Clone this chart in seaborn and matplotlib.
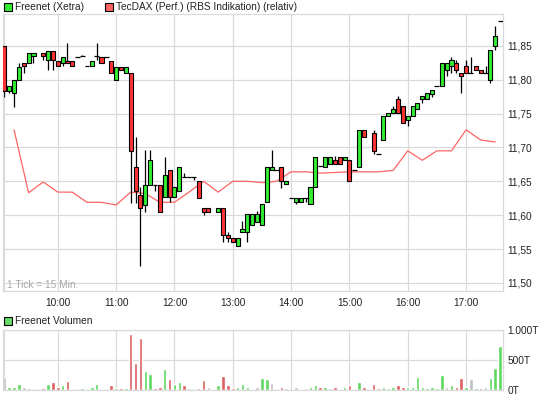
import matplotlib
matplotlib.use("Agg")
import matplotlib.pyplot as plt
import seaborn as sns
import pandas as pd
from matplotlib.patches import Rectangle

sns.set_style("white")
plt.rcParams['font.family'] = ['Liberation Sans', 'DejaVu Sans']

# 5 minute slots starting 09:05 (index 0) up to 17:35 (index 102)
hour_pos = [11, 23, 35, 47, 59, 71, 83, 95]
hour_labels = ['10:00', '11:00', '12:00', '13:00', '14:00', '15:00', '16:00', '17:00']

price_ticks = [11.50, 11.55, 11.60, 11.65, 11.70, 11.75, 11.80, 11.85]

# candles: open / close / high / low  (None = no trade, or no wick beyond body)
c_open = [11.850, 11.784, 11.780, 11.799, 11.824, 11.824, 11.835, None, 11.839, 11.829,
          11.843, 11.828, 11.824, 11.828, 11.828, 11.833, 11.835, 11.820, 11.820, 11.835,
          11.834, 11.834, 11.828, 11.799, 11.819, 11.810, 11.810, 11.671, 11.630, 11.615,
          11.645, 11.645, 11.645, 11.627, 11.666, 11.627, 11.635, 11.657, 11.657, 11.657,
          11.651, 11.611, 11.611, None, 11.605, 11.610, 11.570, 11.566, 11.555, 11.575,
          11.575, 11.586, 11.590, 11.586, 11.620, 11.667, 11.667, 11.671, 11.646, 11.626,
          11.620, 11.620, 11.626, 11.616, 11.641, 11.672, 11.671, 11.676, 11.681, 11.686,
          11.681, 11.681, 11.666, 11.671, 11.726, None, 11.721, 11.691, 11.711, 11.746,
          11.751, 11.771, 11.761, 11.740, 11.746, 11.756, 11.771, 11.771, 11.779, 11.790,
          11.790, 11.815, 11.820, 11.825, 11.810, 11.820, 11.810, 11.820, 11.815, 11.810,
          11.800, 11.850, 11.887]
c_close = [11.784, 11.790, 11.799, 11.819, 11.820, 11.839, 11.839, None, 11.835, 11.843,
           11.829, 11.820, 11.833, 11.824, 11.820, 11.833, 11.835, 11.820, 11.828, 11.835,
           11.824, 11.834, 11.810, 11.819, 11.814, 11.819, 11.695, 11.635, 11.611, 11.645,
           11.681, 11.645, 11.605, 11.660, 11.627, 11.641, 11.671, 11.657, 11.657, 11.657,
           11.626, 11.605, 11.605, None, 11.611, 11.570, 11.566, 11.561, 11.566, 11.580,
           11.601, 11.601, 11.601, 11.616, 11.671, 11.671, 11.667, 11.651, 11.651, 11.626,
           11.626, 11.626, 11.626, 11.641, 11.686, 11.672, 11.686, 11.686, 11.676, 11.676,
           11.686, 11.651, 11.666, 11.726, 11.715, None, 11.695, 11.691, 11.746, 11.751,
           11.756, 11.751, 11.736, 11.746, 11.761, 11.766, 11.776, 11.780, 11.785, 11.790,
           11.825, 11.825, 11.829, 11.815, 11.805, 11.810, 11.810, 11.815, 11.810, 11.810,
           11.844, 11.865, 11.887]
c_high = [None, None, None, 11.825, None, None, None, None, None, None,
          None, None, None, 11.854, None, None, 11.837, None, None, 11.854,
          None, None, None, None, None, None, None, 11.715, 11.642, 11.696,
          11.696, None, None, 11.686, None, None, None, 11.662, None, None,
          None, None, None, None, None, 11.611, 11.575, None, None, 11.591,
          None, None, 11.606, None, None, 11.696, None, None, None, None,
          None, None, None, None, None, None, None, None, 11.688, None,
          None, None, None, None, None, None, 11.726, None, None, None,
          11.761, 11.776, None, None, None, None, None, None, None, None,
          None, None, 11.834, 11.829, None, 11.829, 11.834, None, None, 11.820,
          None, 11.879, None]
c_low = [11.775, 11.780, 11.760, None, 11.810, None, 11.824, None, 11.829, 11.814,
         11.814, None, 11.820, None, None, None, None, None, None, 11.829,
         None, None, None, None, None, None, 11.618, 11.618, 11.525, 11.605,
         None, 11.635, None, None, 11.620, None, None, None, None, 11.652,
         None, 11.600, None, None, None, 11.561, 11.561, None, None, None,
         11.561, None, None, None, None, None, None, 11.640, None, None,
         11.616, None, 11.620, None, None, None, None, None, None, None,
         None, None, None, None, None, None, 11.691, None, None, None,
         None, None, None, 11.731, None, None, 11.766, None, 11.775, None,
         None, 11.805, 11.810, 11.810, 11.780, None, None, None, None, None,
         11.795, 11.844, None]

# TecDAX (relative), one point per 15 minutes
tec_idx = list(range(2, 102, 3))
tec_val = [11.726, 11.633, 11.649, 11.634, 11.634, 11.619, 11.619, 11.615, 11.634, 11.632,
           11.619, 11.619, 11.634, 11.650, 11.634, 11.650, 11.650, 11.648, 11.650, 11.664,
           11.664, 11.662, 11.663, 11.664, 11.664, 11.664, 11.666, 11.695, 11.681, 11.695,
           11.695, 11.726, 11.711, 11.708]

# volume in thousands, direction u(p) / d(own) / n(unchanged) / - (none)
vol = [207, 50, 34, 84, 34, 17, 17, 0, 17, 84,
       117, 39, 67, 134, 0, 0, 17, 0, 34, 84,
       0, 0, 67, 17, 17, 17, 922, 436, 855, 302,
       251, 17, 34, 335, 168, 84, 117, 67, 17, 0,
       17, 151, 50, 0, 67, 218, 67, 17, 50, 84,
       50, 0, 34, 184, 168, 101, 0, 34, 17, 0,
       34, 0, 17, 50, 67, 34, 50, 17, 50, 0,
       34, 67, 0, 117, 34, 0, 84, 17, 50, 17,
       34, 67, 34, 34, 50, 201, 34, 17, 50, 17,
       235, 50, 67, 50, 184, 50, 168, 17, 17, 50,
       197, 365, 730]
vol_dir = ['n', 'u', 'u', 'u', 'n', 'u', 'n', '-', 'd', 'u',
           'd', 'd', 'u', 'd', '-', '-', 'u', '-', 'u', 'u',
           '-', '-', 'd', 'u', 'd', 'u', 'd', 'd', 'd', 'u',
           'u', 'd', 'd', 'u', 'd', 'u', 'u', 'd', 'n', '-',
           'd', 'd', 'n', '-', 'u', 'd', 'd', 'd', 'u', 'u',
           'u', '-', 'n', 'u', 'u', 'n', '-', 'd', 'n', '-',
           'n', '-', 'n', 'u', 'u', 'd', 'u', 'n', 'd', '-',
           'u', 'd', '-', 'u', 'd', '-', 'd', 'd', 'u', 'u',
           'u', 'd', 'd', 'u', 'u', 'u', 'u', 'u', 'u', 'u',
           'u', 'n', 'u', 'd', 'd', 'u', 'n', 'u', 'd', 'n',
           'u', 'u', 'u']

GREEN = '#33ee33'
RED = '#ff3333'
GRID = '#dadada'
vcol = {'u': '#5fd85f', 'd': '#dd5f5f', 'n': '#c0c0c0', '-': '#ffffff'}

W, H = 545, 398
fig = plt.figure(figsize=(W / 100, H / 100), dpi=100)
ax = fig.add_axes([3 / W, (H - 291) / H, 500 / W, 277 / H])
axv = fig.add_axes([3 / W, (H - 389.5) / H, 500 / W, 60 / H])

for a in (ax, axv):
    a.set_xlim(-0.27, 102.6)
    a.set_xticks(hour_pos)
    a.grid(True, color=GRID, lw=0.9)
    a.set_axisbelow(True)
    a.axvline(0, color=GRID, lw=0.9, zorder=0)
    for s in a.spines.values():
        s.set_color(GRID)
        s.set_linewidth(0.9)
    a.yaxis.tick_right()
    a.tick_params(length=0, labelsize=7.3, colors='#222222')

# candles
for i, (o, c) in enumerate(zip(c_open, c_close)):
    if o is None:
        continue
    hi = c_high[i] if c_high[i] is not None else max(o, c)
    lo = c_low[i] if c_low[i] is not None else min(o, c)
    if hi > lo:
        ax.vlines(i, lo, hi, color='black', lw=0.9, zorder=2)
    if o == c:
        ax.hlines(o, i - 0.5, i + 0.5, color='black', lw=0.9, zorder=3)
    else:
        ax.bar(i, abs(c - o), bottom=min(o, c), width=0.84,
               color=GREEN if c > o else RED, edgecolor='black', linewidth=0.8, zorder=3)

tec = pd.DataFrame({'idx': tec_idx, 'val': tec_val})
sns.lineplot(data=tec, x='idx', y='val', ax=ax, color='#ff6464', lw=0.9, zorder=1)

ax.set_ylim(11.488, 11.897)
ax.set_yticks(price_ticks)
ax.set_yticklabels([f"{t:.2f}".replace('.', ',') for t in price_ticks])
ax.set_xticklabels(hour_labels)
ax.tick_params(axis='x', pad=5)
ax.tick_params(axis='y', pad=3)
ax.set_xlabel('')
ax.set_ylabel('')
ax.text(0.008, 0.004, '1 Tick = 15 Min.', transform=ax.transAxes,
        fontsize=7.3, color='#a8a8a8', va='bottom', ha='left')

# volume
axv.bar(range(len(vol)), vol, width=0.72,
        color=[vcol[d] for d in vol_dir], zorder=2)
axv.set_ylim(0, 1000)
axv.set_yticks([0, 500, 1000])
axv.set_yticklabels(['0T', '500T', '1.000T'])
axv.set_xticklabels([])
axv.tick_params(axis='y', pad=3)

# legends
def legend_box(x, y, color, label):
    fig.add_artist(Rectangle((x / W, 1 - (y + 4) / H), 8 / W, 8 / H,
                             transform=fig.transFigure, facecolor=color,
                             edgecolor='black', lw=0.8))
    fig.text((x + 11) / W, 1 - y / H, label, fontsize=7.3, va='center',
             ha='left', color='#222222')

legend_box(4, 7, GREEN, 'Freenet (Xetra)')
legend_box(105, 7, '#ff6464', 'TecDAX (Perf.) (RBS Indikation) (relativ)')
legend_box(4, 321, '#66dd66', 'Freenet Volumen')

fig.savefig('out.png', dpi=100)
